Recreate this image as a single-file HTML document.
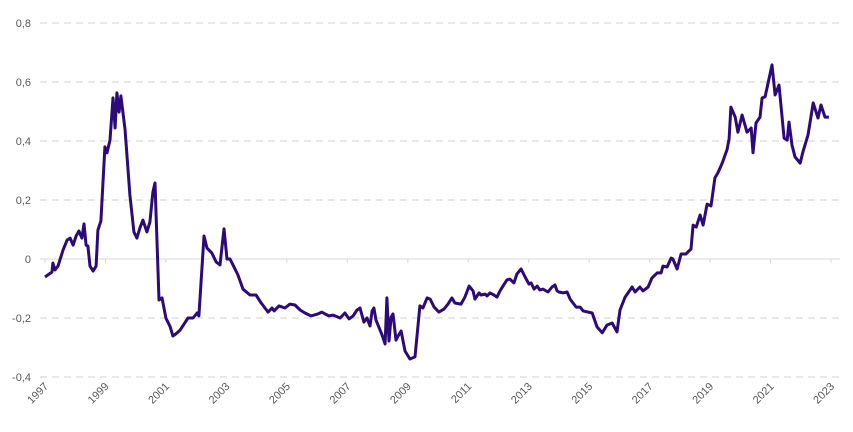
<!DOCTYPE html>
<html><head><meta charset="utf-8"><style>
html,body{margin:0;padding:0;background:#fff;}
svg{display:block;font-family:"Liberation Sans",sans-serif;}
</style></head><body>
<svg id="chart" width="853" height="432" viewBox="0 0 853 432" xmlns="http://www.w3.org/2000/svg">
<g id="grid"></g>
<g id="yaxis"></g>
<g id="xaxis"></g>
<path id="line" fill="none" stroke="#2c0a7a" stroke-width="3" stroke-linejoin="round"></path>
</svg>
<script>
const years=[1997.00,1997.23,1997.26,1997.33,1997.43,1997.60,1997.73,1997.83,1997.93,1998.03,1998.12,1998.22,1998.29,1998.36,1998.42,1998.49,1998.59,1998.69,1998.75,1998.85,1998.98,1999.05,1999.15,1999.25,1999.32,1999.38,1999.45,1999.51,1999.65,1999.81,1999.94,2000.04,2000.14,2000.24,2000.37,2000.47,2000.57,2000.64,2000.77,2000.87,2001.00,2001.14,2001.23,2001.33,2001.47,2001.60,2001.73,2001.90,2002.03,2002.09,2002.26,2002.36,2002.52,2002.66,2002.79,2002.92,2003.02,2003.12,2003.22,2003.38,2003.55,2003.78,2003.98,2004.15,2004.38,2004.51,2004.58,2004.74,2004.94,2005.10,2005.27,2005.44,2005.60,2005.80,2006.03,2006.16,2006.26,2006.39,2006.53,2006.76,2006.92,2007.06,2007.19,2007.32,2007.42,2007.55,2007.65,2007.75,2007.82,2007.88,2007.95,2008.15,2008.25,2008.31,2008.38,2008.45,2008.51,2008.61,2008.68,2008.78,2008.91,2009.07,2009.24,2009.40,2009.50,2009.64,2009.74,2009.87,2010.03,2010.20,2010.33,2010.46,2010.56,2010.76,2010.89,2011.03,2011.16,2011.22,2011.36,2011.42,2011.56,2011.62,2011.72,2011.85,2011.95,2012.05,2012.15,2012.28,2012.38,2012.51,2012.61,2012.75,2012.88,2013.01,2013.08,2013.18,2013.28,2013.37,2013.47,2013.64,2013.77,2013.87,2013.94,2014.00,2014.14,2014.27,2014.37,2014.57,2014.70,2014.80,2015.10,2015.26,2015.43,2015.59,2015.76,2015.92,2016.02,2016.19,2016.42,2016.52,2016.68,2016.78,2016.95,2017.08,2017.25,2017.38,2017.44,2017.58,2017.71,2017.77,2017.91,2018.04,2018.20,2018.37,2018.44,2018.54,2018.67,2018.77,2018.90,2019.03,2019.16,2019.26,2019.40,2019.56,2019.63,2019.69,2019.83,2019.92,2020.06,2020.22,2020.36,2020.42,2020.52,2020.65,2020.72,2020.82,2021.05,2021.15,2021.28,2021.45,2021.55,2021.61,2021.71,2021.81,2021.98,2022.07,2022.24,2022.41,2022.57,2022.67,2022.80,2022.93];
const values=[-0.061,-0.044,-0.014,-0.037,-0.024,0.031,0.064,0.071,0.047,0.078,0.095,0.071,0.119,0.047,0.044,-0.024,-0.041,-0.024,0.098,0.129,0.380,0.360,0.403,0.546,0.444,0.563,0.498,0.553,0.437,0.217,0.092,0.071,0.105,0.132,0.092,0.125,0.227,0.258,-0.139,-0.132,-0.200,-0.230,-0.261,-0.254,-0.241,-0.220,-0.200,-0.200,-0.183,-0.193,0.078,0.037,0.020,-0.010,-0.020,0.102,0.000,0.000,-0.020,-0.054,-0.102,-0.122,-0.122,-0.149,-0.180,-0.166,-0.176,-0.159,-0.166,-0.153,-0.156,-0.173,-0.183,-0.193,-0.186,-0.180,-0.186,-0.193,-0.190,-0.200,-0.183,-0.203,-0.193,-0.173,-0.166,-0.214,-0.200,-0.227,-0.176,-0.166,-0.207,-0.258,-0.288,-0.132,-0.278,-0.197,-0.186,-0.275,-0.261,-0.244,-0.312,-0.339,-0.332,-0.159,-0.166,-0.132,-0.136,-0.163,-0.180,-0.170,-0.153,-0.132,-0.149,-0.153,-0.129,-0.092,-0.108,-0.136,-0.115,-0.122,-0.119,-0.125,-0.115,-0.122,-0.129,-0.108,-0.092,-0.071,-0.068,-0.081,-0.051,-0.034,-0.061,-0.085,-0.081,-0.102,-0.092,-0.105,-0.102,-0.112,-0.095,-0.088,-0.108,-0.112,-0.115,-0.112,-0.136,-0.163,-0.163,-0.176,-0.183,-0.230,-0.250,-0.224,-0.217,-0.247,-0.173,-0.129,-0.095,-0.112,-0.095,-0.108,-0.095,-0.064,-0.047,-0.047,-0.024,-0.027,0.003,0.000,-0.034,0.017,0.017,0.034,0.115,0.108,0.149,0.115,0.186,0.180,0.275,0.292,0.325,0.370,0.407,0.515,0.481,0.430,0.488,0.430,0.444,0.360,0.461,0.481,0.546,0.550,0.658,0.556,0.590,0.410,0.403,0.464,0.386,0.346,0.325,0.363,0.420,0.529,0.478,0.522,0.481,0.481];
const yTicks=[0.8,0.6,0.4,0.2,0,-0.2,-0.4];
const xTicks=[1997,1999,2001,2003,2005,2007,2009,2011,2013,2015,2017,2019,2021,2023];
const NS='http://www.w3.org/2000/svg';
const X0=45,X1=831,Y0=259,PER=295;
function xs(y){return X0+(y-1997)/(2023-1997)*(X1-X0);}
function ys(v){return Y0-v*PER;}
const grid=document.getElementById('grid'),ya=document.getElementById('yaxis'),xa=document.getElementById('xaxis');
yTicks.forEach(t=>{
  const l=document.createElementNS(NS,'line');
  
  
  l.setAttribute('x1',40);l.setAttribute('x2',840);
  l.setAttribute('y1',ys(t));l.setAttribute('y2',ys(t));
  if(t===0){l.setAttribute('stroke','#d9d9d9');l.setAttribute('stroke-width','1');}
  else{l.setAttribute('stroke','#d9d9d9');l.setAttribute('stroke-width','1.3');l.setAttribute('stroke-dasharray','7,5');}
  grid.appendChild(l);
  const tx=document.createElementNS(NS,'text');
  
  
  tx.setAttribute('x',31);tx.setAttribute('y',ys(t)+4);
  tx.setAttribute('text-anchor','end');tx.setAttribute('font-size','11');tx.setAttribute('fill','#595959');
  tx.textContent=t.toFixed(1).replace('.',',');
  if(t===0)tx.textContent='0';
  ya.appendChild(tx);
});
xTicks.forEach(t=>{
  const x=xs(t);
  const tk=document.createElementNS(NS,'line');
  
  
  tk.setAttribute('x1',x);tk.setAttribute('x2',x);tk.setAttribute('y1',Y0);tk.setAttribute('y2',Y0+4);
  tk.setAttribute('stroke','#d9d9d9');
  xa.appendChild(tk);
  const tx=document.createElementNS(NS,'text');
  
  
  tx.setAttribute('font-size','11');tx.setAttribute('fill','#595959');tx.setAttribute('text-anchor','end');
  tx.setAttribute('transform','translate('+(x+4)+',387) rotate(-45)');
  tx.textContent=t;
  xa.appendChild(tx);
});
let d='';
years.forEach((y,i)=>{d+=(i?'L':'M')+xs(y).toFixed(1)+','+ys(values[i]).toFixed(1);});
document.getElementById('line').setAttribute('d',d);
</script>
</body></html>
